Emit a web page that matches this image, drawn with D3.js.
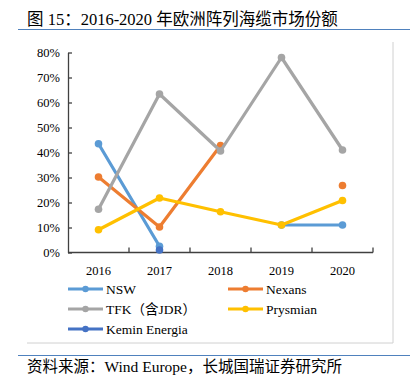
<!DOCTYPE html>
<html>
<head>
<meta charset="utf-8">
<script src="https://cdn.jsdelivr.net/npm/d3@7"></script>
<style>
  body { margin: 0; background: #fff; }
  text { font-family: "Liberation Serif", "Noto Sans CJK SC", serif; }
</style>
</head>
<body>
<div id="chart"></div>
<script>
// Data (share of market, %)
const years = ["2016", "2017", "2018", "2019", "2020"];
const nsw = [43.5, 2.5, null, 11, 11];
const nexans = [30.2, 10.2, 42.8, null, 26.8];
const tfk = [17.3, 63.4, 40.6, 78, 41];
const prysmian = [9.1, 21.8, 16.3, 11, 20.8];
const kemin = [null, 1, null, null, null];
const yTicks = [0, 10, 20, 30, 40, 50, 60, 70, 80];

const series = [
  { name: "NSW", values: nsw, color: "#5b9bd5" },
  { name: "Nexans", values: nexans, color: "#ed7d31" },
  { name: "TFK（含JDR）", values: tfk, color: "#a5a5a5" },
  { name: "Prysmian", values: prysmian, color: "#ffc000" },
  { name: "Kemin Energia", values: kemin, color: "#4472c4" }
];

const W = 420, H = 377;
const svg = d3.select("#chart").append("svg")
  .attr("width", W)
  .attr("height", H);

// Title and source
svg.append("text")
  .attr("x", 27).attr("y", 25)
  .attr("font-size", 16.5)
  .attr("fill", "#000")
  .text("图 15：2016-2020 年欧洲阵列海缆市场份额");

svg.append("line")
  .attr("x1", 18).attr("x2", 410)
  .attr("y1", 29.5).attr("y2", 29.5)
  .attr("stroke", "#4f81bd").attr("stroke-width", 1.2);

svg.append("text")
  .attr("x", 27).attr("y", 372)
  .attr("font-size", 15.5)
  .attr("fill", "#000")
  .text("资料来源：Wind Europe，长城国瑞证券研究所");

svg.append("line")
  .attr("x1", 18).attr("x2", 410)
  .attr("y1", 355.5).attr("y2", 355.5)
  .attr("stroke", "#4f81bd").attr("stroke-width", 1.2);

// Chart frame (right and bottom edges only, as in the source)
svg.append("path")
  .attr("d", "M393,42 V343 H27")
  .attr("fill", "none")
  .attr("stroke", "#d0d0d0")
  .attr("stroke-width", 1);

// Scales
const x = d3.scaleBand()
  .domain(years)
  .range([68, 373]);

const y = d3.scaleLinear()
  .domain([0, 80])
  .range([252.5, 52.5]);

const cx = d => x(d) + x.bandwidth() / 2;

// Y axis
const yAxis = svg.append("g")
  .attr("transform", "translate(68,0)")
  .call(d3.axisLeft(y).tickValues(yTicks).tickFormat(d => d + "%").tickSizeInner(-4).tickSizeOuter(0).tickPadding(8));

yAxis.select(".domain").attr("stroke", "#404040").attr("stroke-width", 1.3);
yAxis.selectAll(".tick line").attr("stroke", "#404040").attr("stroke-width", 1.3);
yAxis.selectAll(".tick text")
  .attr("font-size", 12.5)
  .attr("fill", "#000")
  .style("font-family", "Liberation Serif");

// X axis: ticks between categories
const xAxis = svg.append("g")
  .attr("transform", "translate(0,252.5)");

xAxis.append("line")
  .attr("x1", 68).attr("x2", 373)
  .attr("stroke", "#404040").attr("stroke-width", 1.3);

const bounds = years.map(d => x(d)).concat([x(years[years.length - 1]) + x.bandwidth()]);
xAxis.selectAll(".xt")
  .data(bounds.slice(1))
  .join("line")
  .attr("x1", d => d).attr("x2", d => d)
  .attr("y1", 0).attr("y2", -5)
  .attr("stroke", "#404040").attr("stroke-width", 1.3);

xAxis.selectAll(".xl")
  .data(years)
  .join("text")
  .attr("x", d => cx(d))
  .attr("y", 22.5)
  .attr("text-anchor", "middle")
  .attr("font-size", 12.5)
  .attr("fill", "#000")
  .text(d => d);

// Lines
const line = d3.line()
  .defined(d => d.v !== null)
  .x(d => cx(d.year))
  .y(d => y(d.v));

series.forEach(s => {
  const pts = years.map((yr, i) => ({ year: yr, v: s.values[i] }));
  svg.append("path")
    .datum(pts)
    .attr("fill", "none")
    .attr("stroke", s.color)
    .attr("stroke-width", 3.2)
    .attr("stroke-linejoin", "round")
    .attr("d", line);

  svg.selectAll(null)
    .data(pts.filter(d => d.v !== null))
    .join("circle")
    .attr("cx", d => cx(d.year))
    .attr("cy", d => y(d.v))
    .attr("r", 3.8)
    .attr("fill", s.color);
});

// Legend
const legendPos = [
  [68, 289], [228, 289],
  [68, 309], [228, 309],
  [68, 329]
];

series.forEach((s, i) => {
  const [lx, ly] = legendPos[i];
  const g = svg.append("g").attr("transform", `translate(${lx},${ly})`);
  g.append("line")
    .attr("x1", 0).attr("x2", 35)
    .attr("stroke", s.color).attr("stroke-width", 3.2);
  g.append("circle")
    .attr("cx", 17.5).attr("r", 3.2)
    .attr("fill", s.color);
  g.append("text")
    .attr("x", 38).attr("y", 4.5)
    .attr("font-size", 13.5)
    .attr("fill", "#000")
    .text(s.name);
});
</script>
</body>
</html>
